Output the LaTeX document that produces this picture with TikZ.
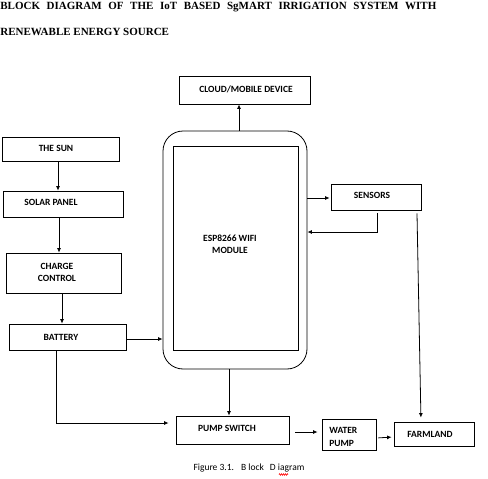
\documentclass[tikz,border=0pt]{standalone}
\usepackage{fontspec}
\setmainfont{Liberation Serif}
\newfontfamily\boxfont{Carlito}
\usetikzlibrary{arrows.meta,decorations.pathmorphing}

\begin{document}
\begin{tikzpicture}[x=1pt,y=-1pt,line width=0.8pt,
  blk/.style={draw,rectangle,inner sep=0pt},
  lbl/.style={font=\boxfont\bfseries\fontsize{9.5}{12.5}\selectfont,inner sep=0pt,align=center},
  arr/.style={-{Latex[length=4.5pt,width=4pt]}}]
\useasboundingbox (0,0) rectangle (488,479);
\node[anchor=base west,inner sep=0pt,font=\bfseries\fontsize{11}{13}\selectfont] (title1) at (0,9.5) {\makebox[436pt][s]{BLOCK DIAGRAM OF THE IoT BASED SgMART IRRIGATION SYSTEM WITH}};
\node[anchor=base west,inner sep=0pt,font=\bfseries\fontsize{11}{13}\selectfont] (title2) at (0,35.5) {RENEWABLE ENERGY SOURCE};
\node[blk,minimum width=131pt,minimum height=28pt] (cloud) at (244.5,90) {};
\node[lbl] (cloudtxt) at (246,89) {CLOUD/MOBILE DEVICE};
\node[blk,rounded corners=20pt,minimum width=144pt,minimum height=238pt] (esp) at (235,250) {};
\node[blk,minimum width=125pt,minimum height=204pt] (espin) at (235.5,248) {};
\node[lbl] (esptxt) at (230,244.5) {ESP8266 WIFI\\MODULE};
\node[blk,minimum width=117pt,minimum height=24pt] (sun) at (60.5,149) {};
\node[lbl] (suntxt) at (56,148) {THE SUN};
\node[blk,minimum width=120pt,minimum height=26pt] (solar) at (63,204) {};
\node[lbl] (solartxt) at (51,202) {SOLAR PANEL};
\node[blk,minimum width=115pt,minimum height=40pt] (charge) at (63.5,273) {};
\node[lbl] (chargetxt) at (57,272.5) {CHARGE\\CONTROL};
\node[blk,minimum width=117pt,minimum height=26pt] (battery) at (67.5,337) {};
\node[lbl] (batterytxt) at (61,337) {BATTERY};
\node[blk,minimum width=90pt,minimum height=26pt] (sensors) at (376,197) {};
\node[lbl] (sensorstxt) at (372,195) {SENSORS};
\node[blk,minimum width=113pt,minimum height=28pt] (pump) at (232.5,430) {};
\node[lbl] (pumptxt) at (227,428) {PUMP SWITCH};
\node[blk,minimum width=54pt,minimum height=31pt] (water) at (349,434.5) {};
\node[lbl,anchor=west,align=left] (watertxt) at (329,437) {WATER\\PUMP};
\node[blk,minimum width=80pt,minimum height=24pt] (farm) at (434,434) {};
\node[lbl] (farmtxt) at (430,434) {FARMLAND};
\node[font=\boxfont\fontsize{9.5}{11}\selectfont,inner sep=0pt] (caption) at (249,468) {Figure 3.1.\hspace{7pt}B lock\hspace{4pt} D iagram};
\draw[arr] ([xshift=4pt]esp.north) -- ([xshift=4pt]esp.north |- cloud.south);
\draw[arr] ([xshift=-2.5pt]sun.south) -- ([xshift=-2.5pt]sun.south |- solar.north);
\draw[arr] ([xshift=-4pt]solar.south) -- ([xshift=-4pt]solar.south |- charge.north);
\draw[arr] ([xshift=-1.5pt]charge.south) -- ([xshift=-1.5pt]charge.south |- battery.north);
\draw[arr] ([yshift=-2pt]battery.east) -- ([yshift=-2pt]battery.east -| esp.west);
\draw[arr,shorten >=7pt] ([xshift=-11.5pt]battery.south) |- ([yshift=7pt]pump.west);
\draw[arr,shorten >=1pt] ([yshift=52pt]esp.east) -- ([yshift=52pt]esp.east -| sensors.west);
\draw[arr] ([xshift=1pt,yshift=-3pt]sensors.south) |- ([yshift=18pt]esp.east);
\draw[arr,shorten >=4pt] ([xshift=41pt,yshift=-3pt]sensors.south) -- ([xshift=-13pt]farm.north);
\draw[arr] ([xshift=-6pt]esp.south) -- ([xshift=-6pt]esp.south |- pump.north);
\draw[arr,shorten <=6pt,shorten >=4pt] ([yshift=-2pt]pump.east) -- ([yshift=-2pt]pump.east -| water.west);
\draw[arr,shorten <=2pt,shorten >=2pt] ([yshift=-3.5pt]water.east) -- ([yshift=-3pt]farm.west);
\draw[red,line width=0.6pt,decorate,decoration={zigzag,segment length=2pt,amplitude=0.8pt}] (279,474.5) -- (288,474.5);
\end{tikzpicture}
\end{document}
